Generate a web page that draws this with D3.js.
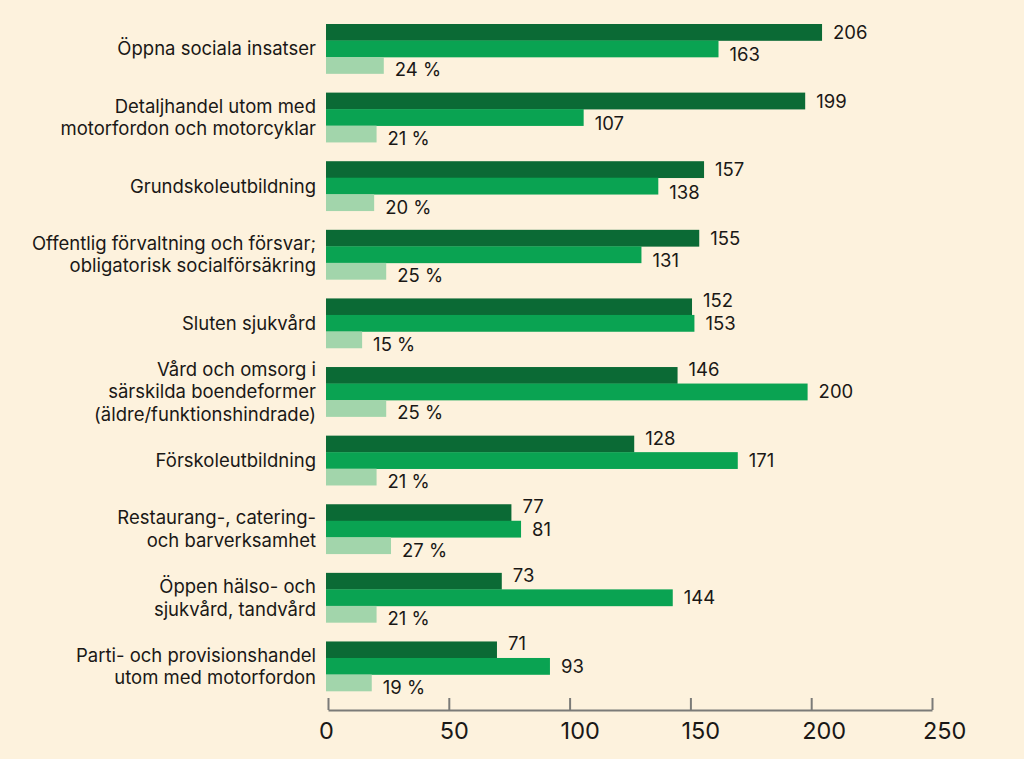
<!DOCTYPE html>
<html><head><meta charset="utf-8">
<script src="https://cdn.jsdelivr.net/npm/d3@7"></script>
<style>
html,body{margin:0;padding:0;background:#fdf2dd;}
svg{display:block;}
text{font-family:Inter,"Liberation Sans",Arial,sans-serif;fill:#1a1816;}
</style></head>
<body>
<script>
const categories = [
  ["Öppna sociala insatser"],
  ["Detaljhandel utom med","motorfordon och motorcyklar"],
  ["Grundskoleutbildning"],
  ["Offentlig förvaltning och försvar;","obligatorisk socialförsäkring"],
  ["Sluten sjukvård"],
  ["Vård och omsorg i","särskilda boendeformer","(äldre/funktionshindrade)"],
  ["Förskoleutbildning"],
  ["Restaurang-, catering-","och barverksamhet"],
  ["Öppen hälso- och","sjukvård, tandvård"],
  ["Parti- och provisionshandel","utom med motorfordon"]
];
const seriesA = [206,199,157,155,152,146,128,77,73,71];
const seriesB = [163,107,138,131,153,200,171,81,144,93];
const percent = [24,21,20,25,15,25,21,27,21,19];
const tickValues = [0,50,100,150,200,250];

const W = 1024, H = 759;
const colors = ["#0b6a35","#0aa352","#a2d5ab"];

const svg = d3.select("body").append("svg").attr("width",W).attr("height",H);
svg.append("rect").attr("width",W).attr("height",H).attr("fill","#fdf2dd");

const x = d3.scaleLinear().domain([0,250]).range([326,928]);
const xAxisScale = d3.scaleLinear().domain([0,250]).range([328,932]);
const y = d3.scaleBand().domain(d3.range(categories.length)).range([24,691]).paddingInner(0.278).paddingOuter(0);
const ySub = d3.scaleBand().domain([0,1,2]).range([0,y.bandwidth()]).padding(0);

const rows = categories.map((c,i)=>({i, label:c, vals:[seriesA[i],seriesB[i],percent[i]]}));

const g = svg.selectAll("g.row").data(rows).enter().append("g").attr("class","row")
  .attr("transform",d=>`translate(0,${y(d.i)})`);

g.selectAll("rect").data(d=>d.vals.map((v,k)=>({v,k}))).enter().append("rect")
  .attr("x",x(0)).attr("y",d=>ySub(d.k)).attr("width",d=>x(d.v)-x(0))
  .attr("height",ySub.bandwidth()+0.3).attr("fill",d=>colors[d.k]);

// value labels
g.each(function(d){
  const sel = d3.select(this);
  const [a,b,p] = d.vals;
  const offA = b >= a ? -6 : 0;
  const offB = b >= a ? 0 : 6;
  const offs = [offA, offB, 4.5];
  d.vals.forEach((v,k)=>{
    sel.append("text")
      .attr("x", x(v)+11)
      .attr("y", ySub(k)+ySub.bandwidth()/2+offs[k])
      .attr("dy","0.36em")
      .attr("font-size",18.5)
      .text(k===2 ? v+" %" : v);
  });
  // category label
  const n = d.label.length, lh = 22.5;
  const cy = y.bandwidth()/2;
  const t = sel.append("text").attr("text-anchor","end").attr("font-size",18.5);
  d.label.forEach((line,li)=>{
    t.append("tspan").attr("x",316).attr("y", cy + (li-(n-1)/2)*lh).attr("dy","0.36em").text(line);
  });
});

// axis
const axis = d3.axisBottom(xAxisScale).tickValues(tickValues).tickSize(-12).tickPadding(12).tickSizeOuter(0);
const ax = svg.append("g").attr("transform","translate(0,710)").call(axis);
ax.select(".domain").attr("stroke","#7b7b78").attr("stroke-width",2);
ax.selectAll(".tick line").attr("stroke","#7b7b78").attr("stroke-width",2);
ax.selectAll(".tick text").attr("font-size",23.5).attr("fill","#1a1816")
  .attr("text-anchor","start").attr("dx",-9.5)
  .attr("font-family","Inter, 'Liberation Sans', Arial, sans-serif");
</script>
</body></html>
